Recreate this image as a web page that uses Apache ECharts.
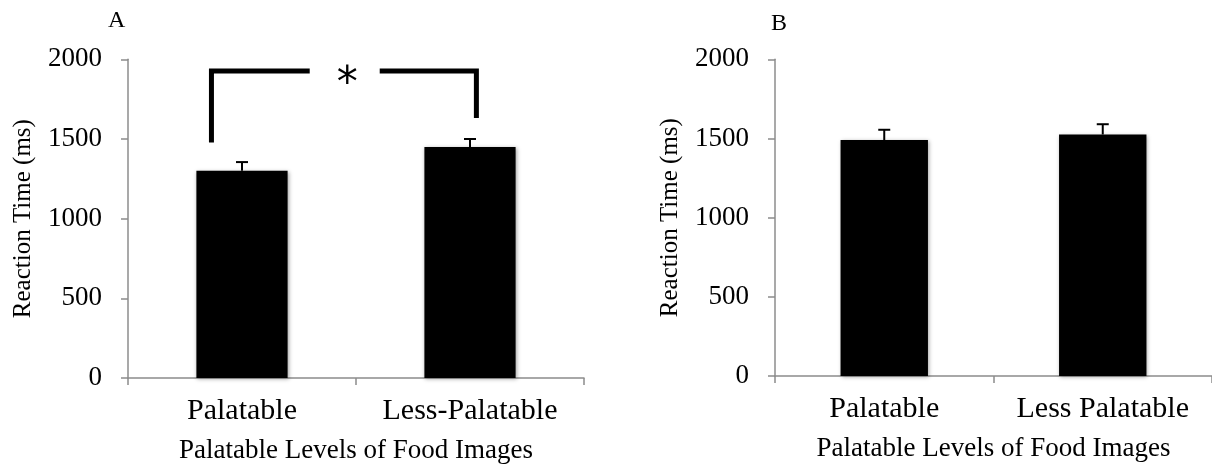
<!DOCTYPE html>
<html><head><meta charset="utf-8">
<script src="https://cdn.jsdelivr.net/npm/echarts@6/dist/echarts.min.js"></script>
<style>html,body{margin:0;padding:0;background:#fff}#c{width:1212px;height:469px}</style>
</head><body><div id="c"></div>
<script>
// ---- data ----
const categoriesA = ['Palatable', 'Less-Palatable'];
const categoriesB = ['Palatable', 'Less Palatable'];
const meansA = [1300, 1450];
const errUpperA = [1355, 1500];
const meansB = [1490, 1525];
const errUpperB = [1555, 1590];
const yTicks = [0, 500, 1000, 1500, 2000];
// significance bracket (x in category units 0..2, y in ms)
const bracketLeft = [[0.366, 1478], [0.366, 1927], [0.797, 1927]];
const bracketRight = [[1.104, 1927], [1.528, 1927], [1.528, 1631]];
const starPos = [[0.962, 1835]];
const panelLabels = ['A', 'B'];
const yAxisTitle = 'Reaction Time (ms)';
const xAxisTitle = 'Palatable Levels of Food Images';

// ---- chart ----
const FONT = 'Liberation Serif';
const axisColor = '#8c8c8c';
const chart = echarts.init(document.getElementById('c'), null, {renderer: 'canvas'});

function errRender(params, api) {
  const p0 = api.coord([api.value(0), api.value(1)]);
  const p1 = api.coord([api.value(0), api.value(2)]);
  return {type: 'group', children: [
    {type: 'line', shape: {x1: p0[0], y1: p0[1], x2: p1[0], y2: p1[1]}, style: {stroke: '#000', lineWidth: 2}},
    {type: 'line', shape: {x1: p1[0] - 6, y1: p1[1], x2: p1[0] + 6, y2: p1[1]}, style: {stroke: '#000', lineWidth: 2}}
  ]};
}

function catAxis(idx, cats) {
  return {
    type: 'category', gridIndex: idx, data: cats,
    axisLine: {show: true, lineStyle: {color: axisColor, width: 1.5}},
    axisTick: {show: true, length: 7, lineStyle: {color: axisColor, width: 1.5}},
    axisLabel: {color: '#000', fontFamily: FONT, fontSize: 30, margin: 18, interval: 0, hideOverlap: false},
    name: xAxisTitle, nameLocation: 'middle', nameGap: 59,
    nameTextStyle: {color: '#000', fontFamily: FONT, fontSize: 27}
  };
}
function valAxis(idx) {
  return {
    type: 'value', gridIndex: idx, min: yTicks[0], max: yTicks[yTicks.length - 1],
    interval: yTicks[1] - yTicks[0],
    axisLine: {show: true, lineStyle: {color: axisColor, width: 1.5}},
    axisTick: {show: true, length: 7, lineStyle: {color: axisColor, width: 1.5}},
    splitLine: {show: false},
    axisLabel: {color: '#000', fontFamily: FONT, fontSize: 27, margin: 26, formatter: v => String(v)},
    name: yAxisTitle, nameLocation: 'middle', nameGap: 92,
    nameTextStyle: {color: '#000', fontFamily: FONT, fontSize: 25}
  };
}
const barStyle = {color: '#000', shadowColor: 'rgba(0,0,0,0.35)', shadowBlur: 4, shadowOffsetX: 1, shadowOffsetY: 1};

chart.setOption({
  animation: false,
  backgroundColor: '#fff',
  title: [
    {text: panelLabels[0], left: 103, top: 4, textStyle: {fontFamily: FONT, fontSize: 24, fontWeight: 'normal', color: '#000'}},
    {text: panelLabels[1], left: 766, top: 7, textStyle: {fontFamily: FONT, fontSize: 24, fontWeight: 'normal', color: '#000'}}
  ],
  grid: [
    {left: 128, top: 59.3, width: 456, height: 319.7},
    {left: 775, top: 59.3, width: 440, height: 316.7}
  ],
  xAxis: [catAxis(0, categoriesA), catAxis(1, categoriesB),
    {type: 'value', gridIndex: 0, min: 0, max: 2, show: false}],
  yAxis: [valAxis(0), valAxis(1)],
  series: [
    {type: 'bar', xAxisIndex: 0, yAxisIndex: 0, data: meansA, barWidth: '40%', itemStyle: barStyle, z: 2},
    {type: 'bar', xAxisIndex: 1, yAxisIndex: 1, data: meansB, barWidth: '40%', itemStyle: barStyle, z: 2},
    {type: 'custom', xAxisIndex: 0, yAxisIndex: 0, renderItem: errRender, z: 3,
      encode: {x: 0, y: [1, 2]}, data: meansA.map((m, i) => [i, m, errUpperA[i]])},
    {type: 'custom', xAxisIndex: 1, yAxisIndex: 1, renderItem: errRender, z: 3,
      encode: {x: 0, y: [1, 2]}, data: meansB.map((m, i) => [i, m, errUpperB[i]])},
    {type: 'line', xAxisIndex: 2, yAxisIndex: 0, data: bracketLeft, showSymbol: false, symbol: 'none',
      lineStyle: {color: '#000', width: 5, join: 'miter', cap: 'butt'}, z: 4},
    {type: 'line', xAxisIndex: 2, yAxisIndex: 0, data: bracketRight, showSymbol: false, symbol: 'none',
      lineStyle: {color: '#000', width: 5, join: 'miter', cap: 'butt'}, z: 4},
    {type: 'custom', xAxisIndex: 2, yAxisIndex: 0, z: 4, data: starPos, encode: {x: 0, y: 1},
      renderItem: (params, api) => {
        const p = api.coord([api.value(0), api.value(1)]);
        return {type: 'text', x: p[0], y: p[1], style: {text: '*', fill: '#000', font: '42px "DejaVu Sans"', align: 'center', verticalAlign: 'middle'}};
      }}
  ]
});
</script></body></html>
